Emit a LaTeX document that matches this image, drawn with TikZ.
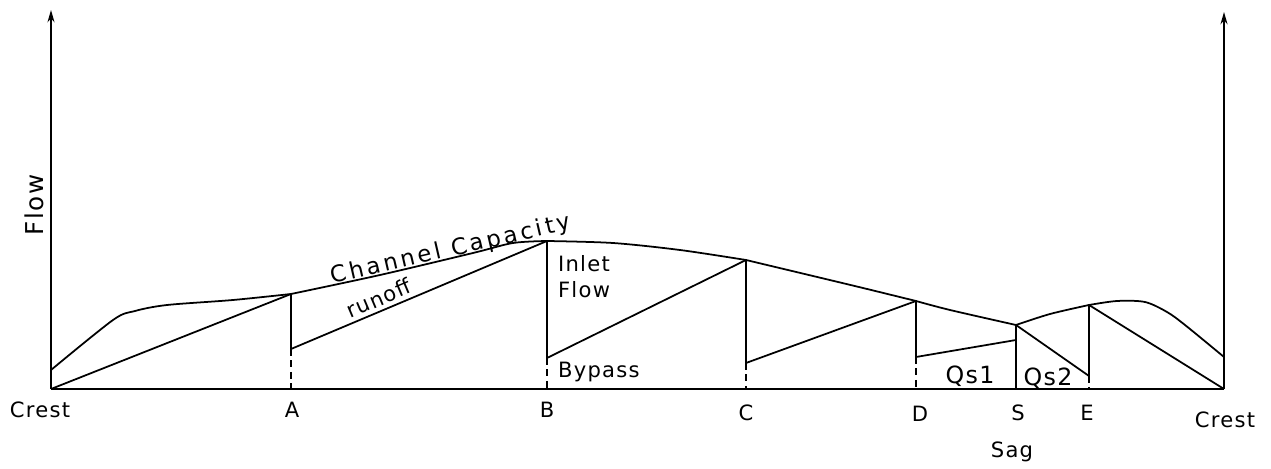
\documentclass[tikz,border=0pt]{standalone}
\usepackage{fontspec}
\usepackage{tikz}
\usetikzlibrary{arrows.meta,positioning,calc}
\newfontfamily\handfont[LetterSpace=6]{DejaVu Sans}

\begin{document}
\begin{tikzpicture}[
    x=0.02cm, y=-0.02cm,
    font=\handfont\fontsize{12}{15}\selectfont,
    curve/.style={line width=1pt, line join=round},
    capline/.style={line width=1pt, smooth, tension=0.5},
    drop/.style={line width=0.8pt, dash pattern=on 4pt off 2.5pt},
    axis/.style={line width=1pt, -{Stealth[length=7pt, width=4pt]}},
    lbl/.style={inner sep=1pt}
  ]
    \useasboundingbox (0,0) rectangle (1271,469);
    \coordinate (crestL) at (51,389);
    \coordinate (crestR) at (1224,389);
    \coordinate (topL) at (51,10);
    \coordinate (topR) at (1224,12);
    \coordinate (aTop) at (291,294); \coordinate (aLow) at (291,349); \coordinate (aBase) at (291,389);
    \coordinate (bTop) at (547,241); \coordinate (bLow) at (547,358); \coordinate (bBase) at (547,389);
    \coordinate (cTop) at (746,260); \coordinate (cLow) at (746,363); \coordinate (cBase) at (746,389);
    \coordinate (dTop) at (916,301); \coordinate (dLow) at (916,357); \coordinate (dBase) at (916,389);
    \coordinate (sTop) at (1016,325); \coordinate (sLow) at (1016,340); \coordinate (sBase) at (1016,389);
    \coordinate (eTop) at (1089,305); \coordinate (eLow) at (1089,376); \coordinate (eBase) at (1089,389);

    \draw[axis] (crestL) -- (topL);
    \draw[axis] (crestR) -- (topR);
    \draw[curve] (crestL) -- (crestR);

    \draw[capline] plot coordinates {(51,370) (113,320) (135,311) (167,305) (233,300) (aTop)};
    \draw[capline] plot coordinates {(aTop) (380,275) (473,253) (513,243) (bTop)};
    \draw[capline] plot coordinates {(bTop) (613,243) (680,250) (cTop)};
    \draw[capline] plot coordinates {(cTop) (813,276) (863,288) (dTop)};
    \draw[capline] plot coordinates {(dTop) (950,310) (sTop)};
    \draw[capline] plot coordinates {(sTop) (1050,314) (eTop)};
    \draw[capline] plot coordinates {(eTop) (1117,301) (1145,302) (1167,312) (1185,325) (1224,357)};

    \draw[curve] (crestL) -- (aTop) -- (aLow) -- (bTop) -- (bLow) -- (cTop) -- (cLow) -- (dTop) -- (dLow) -- (sLow);
    \draw[curve] (sTop) -- (sBase);
    \draw[curve] (sTop) -- (eLow) -- (eTop) -- (crestR);

    \draw[drop] (aLow) -- (aBase);
    \draw[drop] (bLow) -- (bBase);
    \draw[drop] (cLow) -- (cBase);
    \draw[drop] (dLow) -- (dBase);
    \draw[drop] (eLow) -- (eBase);

    \node[lbl, rotate=90, font=\handfont\fontsize{14}{16}\selectfont] (flowLbl) at (34,205) {Flow};
    \node[lbl] (crestLLbl) at (40,410) {Crest};
    \node[lbl] (aLbl) at (292,410) {A};
    \node[lbl] (bLbl) at (547,410) {B};
    \node[lbl] (cLbl) at (746,413) {C};
    \node[lbl] (dLbl) at (920,414) {D};
    \node[lbl] (sLbl) at (1018,413) {S};
    \node[lbl] (eLbl) at (1087,413) {E};
    \node[lbl] (crestRLbl) at (1225,420) {Crest};
    \node[lbl] (sagLbl) at (1012,452) {Sag};
    \node[lbl, anchor=south, rotate=13, font=\handfont\fontsize{13}{15}\selectfont\addfontfeatures{LetterSpace=14}] (capLbl) at (454,263) {Channel Capacity};
    \node[lbl, anchor=south, rotate=23, inner sep=2.5pt] (runoffLbl) at (384,310) {runoff};
    \node[lbl, align=left, anchor=north west] (inletLbl) at (556,253) {Inlet\\Flow};
    \node[lbl, anchor=west] (bypassLbl) at (556,372) {Bypass};
    \node[lbl, font=\handfont\fontsize{13.5}{15}\selectfont] (qsOneLbl) at (970,376) {Qs1};
    \node[lbl, font=\handfont\fontsize{13.5}{15}\selectfont] (qsTwoLbl) at (1048,378) {Qs2};
  \end{tikzpicture}
\end{document}
